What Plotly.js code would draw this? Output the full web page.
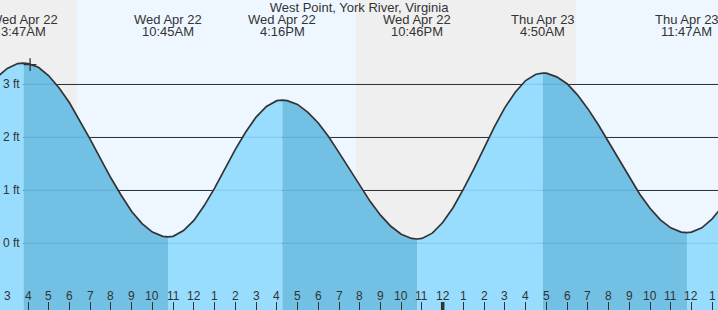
<!DOCTYPE html>
<html>
<head>
<meta charset="utf-8">
<script src="https://cdn.plot.ly/plotly-3.0.1.min.js"></script>
<style>html,body{margin:0;padding:0;background:#eef7ff;}#chart{width:718px;height:310px;}</style>
</head>
<body>
<div id="chart"></div>
<script>
// Hours since Wed Apr 22 00:00
const tideTimes = [2.5, 3, 3.5, 3.783,
  4, 4.5, 5, 5.5, 6, 6.5, 7, 7.5, 8, 8.5, 9, 9.5, 10, 10.5, 10.75,
  11, 11.5, 12, 12.5, 13, 13.5, 14, 14.5, 15, 15.5, 16, 16.267,
  16.5, 17, 17.5, 18, 18.5, 19, 19.5, 20, 20.5, 21, 21.5, 22, 22.5, 22.767,
  23, 23.5, 24, 24.5, 25, 25.5, 26, 26.5, 27, 27.5, 28, 28.5, 28.833,
  29, 29.5, 30, 30.5, 31, 31.5, 32, 32.5, 33, 33.5, 34, 34.5, 35, 35.5, 35.783,
  36, 36.5, 37, 37.5];
const tideHeights = [3.13, 3.30, 3.39, 3.40,
  3.39, 3.32, 3.16, 2.93, 2.65, 2.31, 1.96, 1.59, 1.23, 0.90, 0.60, 0.37, 0.21, 0.13, 0.12,
  0.13, 0.24, 0.43, 0.71, 1.04, 1.40, 1.77, 2.10, 2.38, 2.58, 2.69, 2.70,
  2.69, 2.62, 2.47, 2.27, 2.01, 1.71, 1.40, 1.09, 0.79, 0.53, 0.32, 0.17, 0.09, 0.08,
  0.09, 0.19, 0.39, 0.67, 1.02, 1.40, 1.81, 2.20, 2.56, 2.85, 3.07, 3.19, 3.21,
  3.21, 3.14, 3.01, 2.80, 2.54, 2.24, 1.91, 1.58, 1.24, 0.93, 0.66, 0.44, 0.29, 0.21, 0.20,
  0.21, 0.29, 0.46, 0.70];

const extremeTimes = [3.783, 10.75, 16.267, 22.767, 28.833, 35.783];
const extremeDates = ["Wed Apr 22", "Wed Apr 22", "Wed Apr 22", "Wed Apr 22", "Thu Apr 23", "Thu Apr 23"];
const extremeClock = ["3:47AM", "10:45AM", "4:16PM", "10:46PM", "4:50AM", "11:47AM"];

const sunriseTimes = [6.36, 30.43];
const sunsetTimes = [19.82];
const dayBoundaries = [24];
const nowTime = [4.1];
const nowHeight = [3.37];

const hourTicks = [3, 4, 5, 6, 7, 8, 9, 10, 11, 12, 13, 14, 15, 16, 17, 18, 19, 20, 21, 22, 23, 24,
  25, 26, 27, 28, 29, 30, 31, 32, 33, 34, 35, 36, 37];
const hourLabels = ["3", "4", "5", "6", "7", "8", "9", "10", "11", "12", "1", "2", "3", "4", "5", "6", "7", "8",
  "9", "10", "11", "12", "1", "2", "3", "4", "5", "6", "7", "8", "9", "10", "11", "12", "1"];

const ftTicks = [0, 1, 2, 3];
const ftLabels = ["0 ft", "1 ft", "2 ft", "3 ft"];

const X0 = 2.648, X1 = 37.28;
const BASE = -3;
const LIGHT = "#98dcfe", DARK = "#72c0e4", TXT = "#333";
const FONT = "Liberation Sans, Arial, sans-serif";

// fill polygons per segment
const bounds = [tideTimes[0]].concat(extremeTimes).concat([tideTimes[tideTimes.length - 1]]);
const traces = [];
for (let i = 0; i < bounds.length - 1; i++) {
  const a = bounds[i], b = bounds[i + 1];
  const xs = [], ys = [];
  for (let j = 0; j < tideTimes.length; j++) {
    if (tideTimes[j] >= a - 1e-9 && tideTimes[j] <= b + 1e-9) { xs.push(tideTimes[j]); ys.push(tideHeights[j]); }
  }
  const ia = tideTimes.indexOf(a), ib = tideTimes.indexOf(b);
  const falling = tideHeights[ib] < tideHeights[ia];
  xs.push(b, a); ys.push(BASE, BASE);
  traces.push({x: xs, y: ys, type: "scatter", mode: "lines", fill: "toself",
    fillcolor: falling ? DARK : LIGHT, line: {width: 0}, hoverinfo: "skip", showlegend: false});
}
traces.push({x: tideTimes, y: tideHeights, type: "scatter", mode: "lines",
  line: {color: TXT, width: 1.7}, hoverinfo: "skip", showlegend: false});
traces.push({x: nowTime, y: nowHeight, type: "scatter", mode: "markers",
  marker: {symbol: "cross-thin", size: 9, line: {color: TXT, width: 1.3}}, showlegend: false});

const shapes = [];
// night shading
const nightStarts = [X0 - 1].concat(sunsetTimes);
const nightEnds = sunriseTimes;
for (let i = 0; i < nightEnds.length; i++) {
  shapes.push({type: "rect", xref: "x", yref: "paper", x0: nightStarts[i], x1: nightEnds[i], y0: 0, y1: 1,
    fillcolor: "#efefef", line: {width: 0}, layer: "below"});
}
// grid lines seen through the water
ftTicks.forEach(v => shapes.push({type: "line", xref: "paper", yref: "y", x0: 23 / 718, x1: 1, y0: v, y1: v,
  line: {color: "rgba(0,70,130,0.14)", width: 1.2}, layer: "above"}));
// midnight tick
dayBoundaries.forEach(d => shapes.push({type: "line", xref: "x", yref: "paper", x0: d, x1: d, y0: 0, y1: 8 / 310,
  line: {color: TXT, width: 3.5}, layer: "above"}));

const annotations = [];
extremeTimes.forEach((t, i) => {
  annotations.push({x: t, xref: "x", y: 1 - 19.5 / 310, yref: "paper", text: extremeDates[i], showarrow: false,
    xanchor: "center", yanchor: "middle", font: {family: FONT, size: 13, color: TXT}});
  annotations.push({x: t, xref: "x", y: 1 - 31.7 / 310, yref: "paper", text: extremeClock[i], showarrow: false,
    xanchor: "center", yanchor: "middle", font: {family: FONT, size: 13, color: TXT}});
});
hourTicks.forEach((h, i) => {
  annotations.push({x: h, xref: "x", y: 14 / 310, yref: "paper", text: hourLabels[i], showarrow: false,
    xanchor: "center", yanchor: "middle", font: {family: FONT, size: 12, color: TXT}});
});

const layout = {
  width: 718, height: 310,
  margin: {l: 0, r: 0, t: 0, b: 0, pad: 0},
  paper_bgcolor: "#eef7ff", plot_bgcolor: "#eef7ff",
  title: {text: "West Point, York River, Virginia", x: 0.5, xanchor: "center", xref: "paper",
    y: 1 - 7.5 / 310, yanchor: "middle", yref: "container", font: {family: FONT, size: 13, color: TXT}},
  xaxis: {range: [X0, X1], tickvals: hourTicks, ticks: "inside", ticklen: 8,
    tickwidth: 1, tickcolor: TXT, showticklabels: false,
    showgrid: false, zeroline: false, showline: false, fixedrange: true},
  yaxis: {range: [-1.26, 4.59], tickvals: ftTicks, ticktext: ftLabels, ticks: "", ticklabelposition: "inside",
    tickfont: {family: FONT, size: 12, color: TXT}, showgrid: true, gridcolor: TXT, gridwidth: 1,
    zeroline: true, zerolinecolor: TXT, zerolinewidth: 1, showline: false, fixedrange: true},
  shapes: shapes, annotations: annotations, showlegend: false
};

Plotly.newPlot("chart", traces, layout, {displayModeBar: false, staticPlot: true});
</script>
</body>
</html>
